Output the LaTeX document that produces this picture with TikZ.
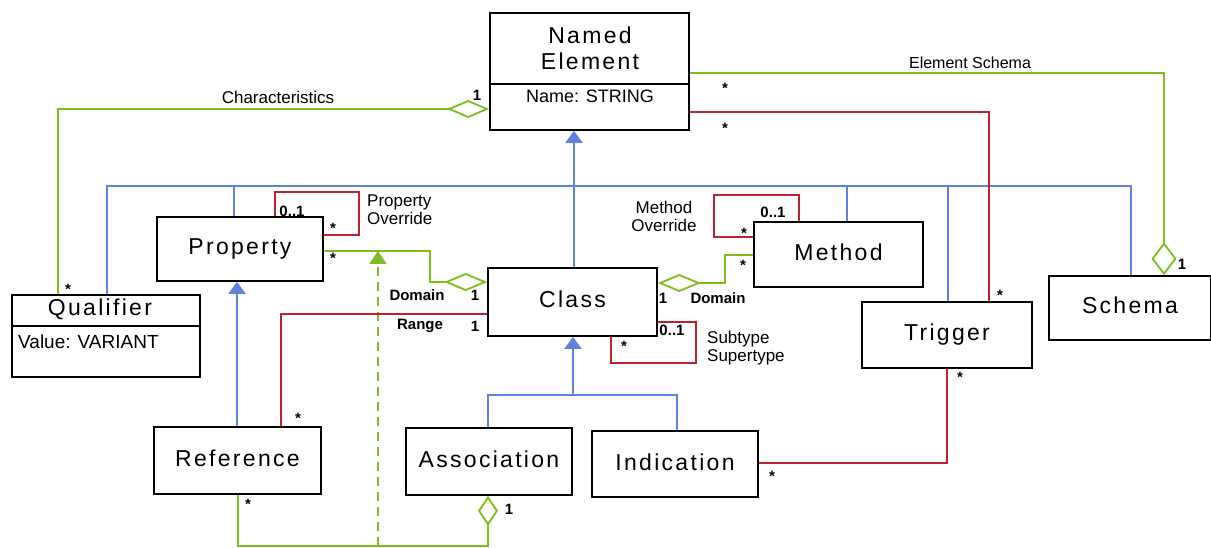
\documentclass[tikz,border=0pt]{standalone}
\usepackage{fontspec}
\setmainfont{Liberation Sans}
\newfontfamily\titlefont[LetterSpace=10]{Liberation Sans}
\usetikzlibrary{arrows.meta}

\definecolor{genblue}{RGB}{95,130,225}
\definecolor{agggreen}{RGB}{125,190,30}
\definecolor{linkred}{RGB}{185,35,45}

\tikzset{
  umlbox/.style={draw=black, line width=1.6pt, fill=white, inner sep=0pt,
    font=\titlefont\fontsize{23}{26}\selectfont, text height=16pt, text depth=4pt},
  title/.style={font=\titlefont\fontsize{23}{26}\selectfont, inner sep=0pt, align=center},
  attr/.style={font=\fontsize{19}{21}\selectfont, inner sep=0pt},
  gen/.style={draw=genblue, line width=1.8pt},
  genarrow/.style={gen, -{Triangle[length=12pt,width=17pt,fill=genblue]}},
  agg/.style={draw=agggreen, line width=1.8pt},
  link/.style={draw=linkred, line width=1.8pt},
  mult/.style={font=\bfseries\fontsize{15}{17}\selectfont, inner sep=0pt},
  star/.style={mult, yshift=-3pt},
  role/.style={font=\fontsize{17}{18}\selectfont, inner sep=0pt, align=left},
}

\begin{document}
\begin{tikzpicture}[x=1pt, y=-1pt]
\useasboundingbox (0,0) rectangle (1211,548);

% ---------- classes ----------
\node[umlbox, minimum width=199pt, minimum height=117pt] (ne) at (589.5,71.5) {};
\draw[line width=1.6pt] (ne.west |- 0,84) -- (ne.east |- 0,84);
\node[title] at (590,48) {Named\\Element};
\node[attr, font=\fontsize{18}{20}\selectfont] at (590,96) {Name: STRING};

\node[umlbox, minimum width=188pt, minimum height=82pt] (qual) at (106,336) {};
\draw[line width=1.6pt] (qual.west |- 0,326) -- (qual.east |- 0,326);
\node[title] at (100,309) {Qualifier};
\node[attr, anchor=west] at (18,342) {Value: VARIANT};

\node[umlbox, minimum width=166pt, minimum height=64pt] (prop) at (240,249) {Property};
\node[umlbox, minimum width=169pt, minimum height=68pt] (cls) at (572.5,302) {Class};
\node[umlbox, minimum width=169pt, minimum height=65pt] (meth) at (838.5,254.5) {Method};
\node[umlbox, minimum width=170pt, minimum height=66pt] (trig) at (947,335) {Trigger};
\node[umlbox, minimum width=162pt, minimum height=64pt] (sch) at (1130,308) {Schema};
\node[umlbox, minimum width=167pt, minimum height=67pt] (ref) at (237.5,460.5) {Reference};
\node[umlbox, minimum width=166pt, minimum height=67pt] (assoc) at (489,461.5) {Association};
\node[umlbox, minimum width=166pt, minimum height=66pt] (ind) at (675,464) {Indication};

% ---------- generalizations ----------
\draw[genarrow] (cls.north -| 574,0) -- (ne.south -| 574,0);
\draw[gen] (qual.north -| 107,0) |- (1131,186) -- (sch.north -| 1131,0);
\draw[gen] (234,186) -- (prop.north -| 234,0);
\draw[gen] (847,186) -- (meth.north -| 847,0);
\draw[gen] (948,186) -- (trig.north -| 948,0);
\draw[genarrow] (ref.north -| 237,0) -- (prop.south -| 237,0);
\draw[gen] (assoc.north -| 488,0) |- (677,395) -- (ind.north -| 677,0);
\draw[genarrow] (573,395) -- (cls.south -| 573,0);

% ---------- aggregations ----------
\draw[agg, -{Diamond[open, length=42pt, width=18pt, fill=white]}]
  (qual.north -| 58,0) |- (ne.west |- 0,109);
\draw[agg, -{Diamond[open, length=33pt, width=25pt, fill=white]}]
  (ne.east |- 0,73) -| (sch.north -| 1164,0);
\draw[agg, -{Diamond[open, length=43pt, width=18pt, fill=white]}]
  (prop.east |- 0,251) -| (430,282) -- (cls.west |- 0,282);
\draw[agg, {Diamond[open, length=43pt, width=18pt, fill=white]}-]
  (cls.east |- 0,283) -- (725,283) |- (meth.west |- 0,255);
\draw[agg, -{Diamond[open, length=30pt, width=20pt, fill=white]}]
  (ref.south -| 238,0) |- (488,546) -- (assoc.south -| 488,0);

% association class link
\coordinate (assocfoot) at (378,546);
\coordinate (domainlink) at (378,251);
\draw[agg, dash pattern=on 9pt off 6pt, -{Triangle[length=13pt,width=17pt,fill=agggreen]}]
  (assocfoot) -- (domainlink);

% ---------- associations ----------
\draw[link] (ne.east |- 0,112) -| (trig.north -| 989,0);
\draw[link] (prop.north -| 275,0) |- (359,192) |- (prop.east |- 0,235);
\draw[link] (cls.west |- 0,314) -| (ref.north -| 281,0);
\draw[link] (meth.west |- 0,237) -| (714,195) -| (meth.north -| 799,0);
\draw[link] (cls.east |- 0,322) -| (696,363) -| (cls.south -| 611,0);
\draw[link] (ind.east |- 0,463) -| (trig.south -| 947,0);

% ---------- labels ----------
\node[role, font=\fontsize{17}{18}\selectfont] at (278,97) {Characteristics};
\node[mult] at (477,95) {1};
\node[star] at (68,286) {*};
\node[role, font=\fontsize{16}{18}\selectfont] at (970,63) {Element Schema};
\node[star] at (725,85) {*};
\node[star] at (725,125) {*};
\node[mult] at (1182,264) {1};
\node[star] at (1000,292) {*};

\node[mult] at (292,211) {0..1};
\node[star] at (333,225) {*};
\node[role, anchor=west] at (367,210) {Property\\Override};
\node[star] at (333,255) {*};
\node[mult] at (417,295) {Domain};
\node[mult] at (475,295) {1};
\node[mult] at (420,326) {Range};
\node[mult] at (475,326) {1};
\node[star] at (298,415) {*};

\node[mult] at (663,298) {1};
\node[mult] at (718,298) {Domain};
\node[star] at (743,262) {*};
\node[mult] at (773,212) {0..1};
\node[star] at (744,230) {*};
\node[role, align=center] at (664,216) {Method\\Override};
\node[mult] at (672,330) {0..1};
\node[star] at (624,343) {*};
\node[role, anchor=west] at (707,348) {Subtype\\Supertype};

\node[star] at (772,473) {*};
\node[star] at (960,374) {*};
\node[star] at (248,501) {*};
\node[mult] at (509,509) {1};
\end{tikzpicture}
\end{document}
